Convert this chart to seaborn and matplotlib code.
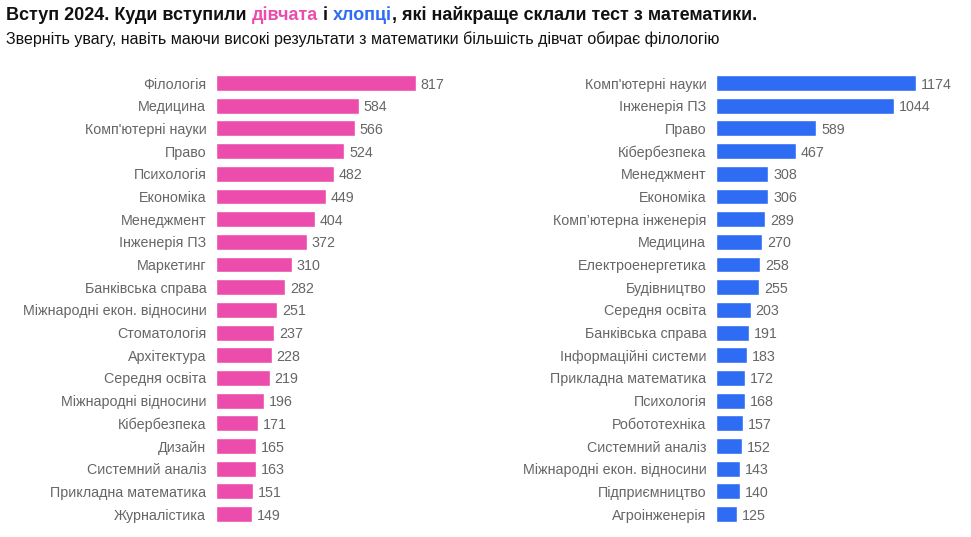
import pandas as pd
import matplotlib
matplotlib.use("Agg")
import matplotlib.pyplot as plt
import seaborn as sns

# Data
girls_fields = ["Філологія", "Медицина", "Комп'ютерні науки", "Право", "Психологія",
                "Економіка", "Менеджмент", "Інженерія ПЗ", "Маркетинг", "Банківська справа",
                "Міжнародні екон. відносини", "Стоматологія", "Архітектура", "Середня освіта",
                "Міжнародні відносини", "Кібербезпека", "Дизайн", "Системний аналіз",
                "Прикладна математика", "Журналістика"]
girls_counts = [817, 584, 566, 524, 482, 449, 404, 372, 310, 282,
                251, 237, 228, 219, 196, 171, 165, 163, 151, 149]

boys_fields = ["Комп'ютерні науки", "Інженерія ПЗ", "Право", "Кібербезпека", "Менеджмент",
               "Економіка", "Комп’ютерна інженерія", "Медицина", "Електроенергетика", "Будівництво",
               "Середня освіта", "Банківська справа", "Інформаційні системи", "Прикладна математика",
               "Психологія", "Робототехніка", "Системний аналіз", "Міжнародні екон. відносини",
               "Підприємництво", "Агроінженерія"]
boys_counts = [1174, 1044, 589, 467, 308, 306, 289, 270, 258, 255,
               203, 191, 183, 172, 168, 157, 152, 143, 140, 125]

PINK = "#ec4cab"
BLUE = "#2f6cf4"
GREY = "#666666"

sns.set_theme(style="white")
plt.rcParams['font.family'] = ['Liberation Sans', 'DejaVu Sans']

fig = plt.figure(figsize=(9.71, 5.37), dpi=100)
W, H = 971, 537

def panel(left_px, fields, counts, color):
    ax = fig.add_axes([left_px / W, (H - 525.4) / H, 200 / W, 453.7 / H])
    df = pd.DataFrame({"field": fields, "count": counts})
    sns.barplot(data=df, x="count", y="field", color=color, width=0.7,
                saturation=1, ax=ax, orient="h")
    ax.set_xlim(0, max(counts))
    ax.set_ylim(len(fields) - 0.5, -0.5)
    for s in ax.spines.values():
        s.set_visible(False)
    ax.set_xticks([])
    ax.set_xlabel("")
    ax.set_ylabel("")
    ax.tick_params(axis="y", length=0, pad=7, labelsize=10.3, labelcolor=GREY)
    for lab in ax.get_yticklabels():
        lab.set_va("center_baseline")
    for c in ax.containers:
        texts = ax.bar_label(c, fmt="%d", padding=3.5, fontsize=10.3, color=GREY,
                             clip_on=False)
        for t in texts:
            t.set_va("center_baseline")
    return ax

panel(216, girls_fields, girls_counts, PINK)
panel(716, boys_fields, boys_counts, BLUE)

# Title with coloured words
parts = [("Вступ 2024. Куди вступили ", "#111111"), ("дівчата", PINK), (" і ", "#111111"),
         ("хлопці", BLUE), (", які найкраще склали тест з математики.", "#111111")]
renderer = fig.canvas.get_renderer()
x = 6 / W
for txt, col in parts:
    t = fig.text(x, 1 - 15 / H, txt, color=col, fontsize=13, fontweight="bold",
                 va="center", ha="left")
    bb = t.get_window_extent(renderer=renderer)
    x += bb.width / W

fig.text(6 / W, 1 - 39 / H,
         "Зверніть увагу, навіть маючи високі результати з математики більшість дівчат обирає філологію",
         fontsize=11.5, color="#111111", va="center", ha="left")

fig.savefig("out.png", dpi=100)
